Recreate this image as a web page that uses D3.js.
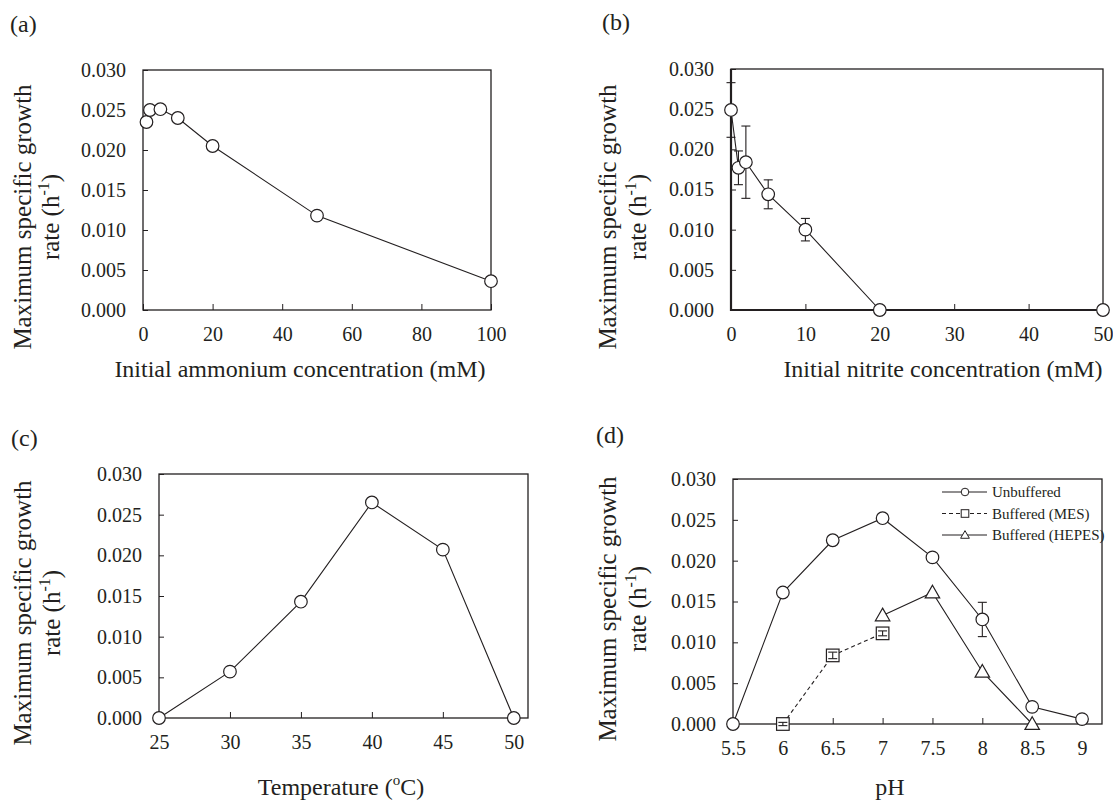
<!DOCTYPE html>
<html>
<head>
<meta charset="utf-8">
<script src="https://cdn.jsdelivr.net/npm/d3@7"></script>
<style>
  body { margin: 0; background: #fff; }
</style>
</head>
<body>
<div id="chart"></div>
<script>
// data
var rateTicks = [0, 0.005, 0.010, 0.015, 0.020, 0.025, 0.030];

var ammoniumConc = [1, 2, 5, 10, 20, 50, 100];
var ammoniumRate = [0.0235, 0.0250, 0.0251, 0.0240, 0.0205, 0.0118, 0.0036];
var ammoniumTicks = [0, 20, 40, 60, 80, 100];

var nitriteConc = [0, 1, 2, 5, 10, 20, 50];
var nitriteRate = [0.0249, 0.0177, 0.0184, 0.0144, 0.0100, 0, 0];
var nitriteErr = [0.0034, 0.0021, 0.0045, 0.0018, 0.0014, 0, 0];
var nitriteTicks = [0, 10, 20, 30, 40, 50];

var temperature = [25, 30, 35, 40, 45, 50];
var temperatureRate = [0, 0.0057, 0.0143, 0.0265, 0.0207, 0];
var temperatureTicks = [25, 30, 35, 40, 45, 50];

var pHUnbuffered = [5.5, 6, 6.5, 7, 7.5, 8, 8.5, 9];
var unbufferedRate = [0, 0.0161, 0.0225, 0.0252, 0.0204, 0.0128, 0.0021, 0.0006];
var unbufferedErr = [0, 0, 0, 0, 0, 0.0021, 0, 0];
var pHMES = [6, 6.5, 7];
var mesRate = [0, 0.0084, 0.0111];
var mesErr = [0.0002, 0.0004, 0.0003];
var pHHEPES = [7, 7.5, 8, 8.5];
var hepesRate = [0.0133, 0.0161, 0.0064, 0];
var pHTicks = [5.5, 6, 6.5, 7, 7.5, 8, 8.5, 9];

var ink = '#231f20';
var serif = '"Liberation Serif", "Times New Roman", serif';
var titleSize = 24;

var svg = d3.select('#chart')
    .append('svg')
    .attr('width', 1113)
    .attr('height', 800)
    .style('background', '#fff');

function zip(xs, ys, es) {
    return xs.map(function(d, i) {
        return {x: d, y: ys[i], e: es ? es[i] : 0};
    });
}

function drawMarker(sel, type, size) {
    if (type === 'circle') {
        sel.append('circle').attr('r', size);
    } else if (type === 'square') {
        sel.append('rect').attr('x', -size).attr('y', -size)
            .attr('width', size * 2).attr('height', size * 2);
    } else {
        var h = size * 1.15;
        sel.append('path').attr('d', 'M0,' + (-h) + 'L' + h + ',' + (h * 0.75) + 'L' + (-h) + ',' + (h * 0.75) + 'Z');
    }
}

function drawErrors(g, x, y, pts) {
    pts.filter(function(d) { return d.e > 0; }).forEach(function(d) {
        var cx = x(d.x), top = y(d.y + d.e), bot = y(d.y - d.e);
        g.append('line').attr('x1', cx).attr('x2', cx).attr('y1', top).attr('y2', bot);
        g.append('line').attr('x1', cx - 4.5).attr('x2', cx + 4.5).attr('y1', top).attr('y2', top);
        g.append('line').attr('x1', cx - 4.5).attr('x2', cx + 4.5).attr('y1', bot).attr('y2', bot);
    });
}

function panel(cfg) {
    var g = svg.append('g');
    var x = d3.scaleLinear().domain(cfg.xDomain).range([cfg.left, cfg.right]);
    var y = d3.scaleLinear().domain([0, 0.03]).range([cfg.bottom, cfg.top]);

    // panel letter
    g.append('text').attr('x', cfg.tag[0]).attr('y', cfg.tag[1])
        .attr('font-family', serif).attr('font-size', titleSize).attr('fill', ink)
        .text(cfg.label);

    // y axis, ticks inside
    var ya = g.append('g').attr('transform', 'translate(' + cfg.left + ',0)')
        .call(d3.axisLeft(y).tickValues(rateTicks).tickFormat(d3.format('.3f'))
            .tickSizeInner(-5).tickSizeOuter(0).tickPadding(17));
    ya.select('.domain').remove();
    ya.attr('font-family', serif).attr('font-size', 20).style('color', ink);

    var xa = g.append('g').attr('transform', 'translate(0,' + cfg.bottom + ')')
        .call(d3.axisBottom(x).tickValues(cfg.xTicks).tickFormat(function(d) { return String(d); })
            .tickSizeInner(-6).tickSizeOuter(0).tickPadding(17));
    xa.select('.domain').remove();
    xa.attr('font-family', serif).attr('font-size', 20).style('color', ink);

    // plot area border
    g.append('rect')
        .attr('x', cfg.left).attr('y', cfg.top)
        .attr('width', cfg.right - cfg.left).attr('height', cfg.bottom - cfg.top)
        .attr('fill', 'none').attr('stroke', ink).attr('stroke-width', 1.3);
    if (cfg.heavyAxes) {
        g.append('path')
            .attr('d', 'M' + cfg.left + ',' + cfg.top + 'V' + cfg.bottom + 'H' + cfg.right)
            .attr('fill', 'none').attr('stroke', ink).attr('stroke-width', 2.2);
    }

    // y title, two lines
    g.append('text')
        .attr('transform', 'translate(' + cfg.yTitle[0] + ',' + cfg.yTitle[2] + ') rotate(-90)')
        .attr('text-anchor', 'middle').attr('font-family', serif).attr('font-size', 25).attr('fill', ink)
        .text('Maximum specific growth');
    var yt2 = g.append('text')
        .attr('transform', 'translate(' + cfg.yTitle[1] + ',' + cfg.yTitle[2] + ') rotate(-90)')
        .attr('text-anchor', 'middle').attr('font-family', serif).attr('font-size', 25).attr('fill', ink);
    yt2.append('tspan').text('rate (h');
    yt2.append('tspan').attr('dy', -10).attr('font-size', 16).text('-1');
    yt2.append('tspan').attr('dy', 10).text(')');

    // x title
    var xt = g.append('text').attr('x', cfg.xTitle[0]).attr('y', cfg.xTitle[1])
        .attr('text-anchor', 'middle').attr('font-family', serif).attr('font-size', titleSize).attr('fill', ink);
    cfg.xTitleParts.forEach(function(p) {
        if (p.sup) {
            xt.append('tspan').attr('dy', -10).attr('font-size', 15).text(p.t);
        } else {
            xt.append('tspan').attr('dy', p.after ? 10 : 0).text(p.t);
        }
    });

    // series
    cfg.series.forEach(function(s) {
        var pts = zip(s.x, s.y, s.err);
        var line = d3.line().x(function(d) { return x(d.x); }).y(function(d) { return y(d.y); });
        g.append('path').datum(pts)
            .attr('d', line)
            .attr('fill', 'none').attr('stroke', ink).attr('stroke-width', 1.1)
            .attr('stroke-dasharray', s.dash || null);
        var eg = g.append('g').attr('stroke', ink).attr('stroke-width', 1.1);
        if (!s.errOnTop) drawErrors(eg, x, y, pts);
        g.append('g').selectAll('g')
            .data(pts)
            .enter()
            .append('g')
            .attr('transform', function(d) { return 'translate(' + x(d.x) + ',' + y(d.y) + ')'; })
            .attr('fill', '#fff').attr('stroke', ink).attr('stroke-width', 1.2)
            .each(function() { drawMarker(d3.select(this), s.marker, 6.3); });
        if (s.errOnTop) {
            var eg2 = g.append('g').attr('stroke', ink).attr('stroke-width', 1.1);
            drawErrors(eg2, x, y, pts);
        }
    });

    // legend
    if (cfg.legend) {
        cfg.legend.forEach(function(l, i) {
            var ly = 492 + i * 21.5;
            g.append('line').attr('x1', 942).attr('x2', 987).attr('y1', ly).attr('y2', ly)
                .attr('stroke', ink).attr('stroke-width', 1.1).attr('stroke-dasharray', l.dash || null);
            var m = g.append('g').attr('transform', 'translate(965,' + ly + ')')
                .attr('fill', '#fff').attr('stroke', ink).attr('stroke-width', 1);
            drawMarker(m, l.marker, 3.8);
            g.append('text').attr('x', 992).attr('y', ly + 5)
                .attr('font-family', serif).attr('font-size', 15).attr('fill', ink)
                .text(l.name);
        });
    }
}

panel({
    label: '(a)', tag: [10, 32],
    left: 143, right: 491, top: 70, bottom: 310,
    xDomain: [0, 100], xTicks: ammoniumTicks,
    yTitle: [31, 59, 217],
    xTitle: [300, 377], xTitleParts: [{t: 'Initial ammonium concentration (mM)'}],
    series: [{x: ammoniumConc, y: ammoniumRate, marker: 'circle'}]
});

panel({
    label: '(b)', tag: [602, 30],
    left: 731, right: 1103, top: 69, bottom: 310,
    xDomain: [0, 50], xTicks: nitriteTicks, heavyAxes: true,
    yTitle: [616, 646, 217],
    xTitle: [943, 377], xTitleParts: [{t: 'Initial nitrite concentration (mM)'}],
    series: [{x: nitriteConc, y: nitriteRate, err: nitriteErr, marker: 'circle'}]
});

panel({
    label: '(c)', tag: [11, 446],
    left: 159, right: 528, top: 474, bottom: 718,
    xDomain: [25, 51], xTicks: temperatureTicks,
    yTitle: [31, 60, 613],
    xTitle: [341, 795], xTitleParts: [{t: 'Temperature ('}, {t: 'o', sup: true}, {t: 'C)', after: true}],
    series: [{x: temperature, y: temperatureRate, marker: 'circle'}]
});

panel({
    label: '(d)', tag: [596, 443],
    left: 733, right: 1102, top: 479, bottom: 724,
    xDomain: [5.5, 9.2], xTicks: pHTicks,
    yTitle: [616, 646, 609],
    xTitle: [890, 795], xTitleParts: [{t: 'pH'}],
    series: [
        {x: pHUnbuffered, y: unbufferedRate, err: unbufferedErr, marker: 'circle'},
        {x: pHMES, y: mesRate, err: mesErr, marker: 'square', dash: '4,3', errOnTop: true},
        {x: pHHEPES, y: hepesRate, marker: 'triangle'}
    ],
    legend: [
        {name: 'Unbuffered', marker: 'circle'},
        {name: 'Buffered (MES)', marker: 'square', dash: '4,3'},
        {name: 'Buffered (HEPES)', marker: 'triangle'}
    ]
});
</script>
</body>
</html>
